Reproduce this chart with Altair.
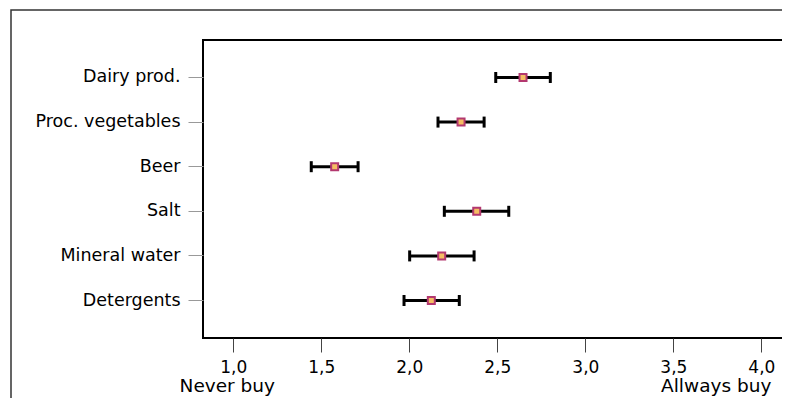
import altair as alt
import pandas as pd

categories = ["Dairy prod.", "Proc. vegetables", "Beer", "Salt", "Mineral water", "Detergents"]
means = [2.646, 2.294, 1.576, 2.383, 2.184, 2.125]
lows = [2.491, 2.163, 1.443, 2.199, 2.002, 1.970]
highs = [2.801, 2.425, 1.709, 2.565, 2.368, 2.284]
tick_values = [1.0, 1.5, 2.0, 2.5, 3.0, 3.5, 4.0]
end_labels = ["Never buy", "Allways buy"]
end_positions = [1.0, 4.0]

df = pd.DataFrame({"cat": categories, "mean": means, "low": lows, "high": highs})
ends = pd.DataFrame({"label": end_labels, "pos": end_positions})
frame_df = pd.DataFrame({"k": [0]})

FONT = "DejaVu Sans"
W, H = 586, 298

xscale = alt.Scale(domain=[0.828, 4.157], nice=False, zero=False)
yscale = alt.Scale(domain=categories, paddingInner=0, paddingOuter=0.34)

xaxis = alt.Axis(
    values=tick_values,
    labelExpr="replace(format(datum.value, '.1f'), '.', ',')",
    title=None, domain=False, grid=False,
    tickSize=14, tickColor="#444", tickWidth=1,
    labelPadding=7, labelFontSize=17, labelFont=FONT, labelColor="#000",
)
yaxis = alt.Axis(
    title=None, domain=False, grid=False,
    tickSize=15, tickColor="#999", tickWidth=1,
    labelPadding=8, labelFontSize=17.5, labelFont=FONT, labelColor="#000",
)

x_enc = alt.X("mean:Q", scale=xscale, axis=xaxis)
y_enc = alt.Y("cat:N", scale=yscale, axis=yaxis, sort=categories)

frame = alt.Chart(frame_df).mark_rect(
    fill="white", fillOpacity=0, stroke="#333", strokeWidth=1.5
).encode(
    x=alt.value(-192), y=alt.value(-30), x2=alt.value(900), y2=alt.value(500)
)

base = alt.Chart(df)

bars = base.mark_rule(color="black", strokeWidth=3).encode(
    x=alt.X("low:Q", scale=xscale, axis=xaxis), x2="high:Q", y=y_enc
)
cap_lo = base.mark_tick(color="black", thickness=3, size=11, opacity=1).encode(
    x=alt.X("low:Q", scale=xscale, axis=xaxis), y=y_enc
)
cap_hi = base.mark_tick(color="black", thickness=3, size=11, opacity=1).encode(
    x=alt.X("high:Q", scale=xscale, axis=xaxis), y=y_enc
)
pts = base.mark_square(
    size=49, fill="#f5bd63", stroke="#b3386f", strokeWidth=2, opacity=1, filled=True
).encode(x=x_enc, y=y_enc)

txt_left = alt.Chart(ends[ends["label"] == "Never buy"]).mark_text(
    font=FONT, fontSize=18.5, color="#000", align="center", baseline="alphabetic", dx=-6
).encode(x=alt.X("pos:Q", scale=xscale), y=alt.value(352), text="label:N")
txt_right = alt.Chart(ends[ends["label"] == "Allways buy"]).mark_text(
    font=FONT, fontSize=18.5, color="#000", align="right", baseline="alphabetic", dx=10
).encode(x=alt.X("pos:Q", scale=xscale), y=alt.value(352), text="label:N")

chart = alt.layer(frame, bars, cap_lo, cap_hi, pts, txt_left, txt_right).properties(
    width=W, height=H,
    autosize=alt.AutoSizeParams(type="none"),
    padding={"left": 195, "top": 32, "right": -7, "bottom": 60},
    background="white",
).configure_view(stroke="black", strokeWidth=2)

chart.save("out.html", embed_options={"renderer": "svg", "actions": False})
